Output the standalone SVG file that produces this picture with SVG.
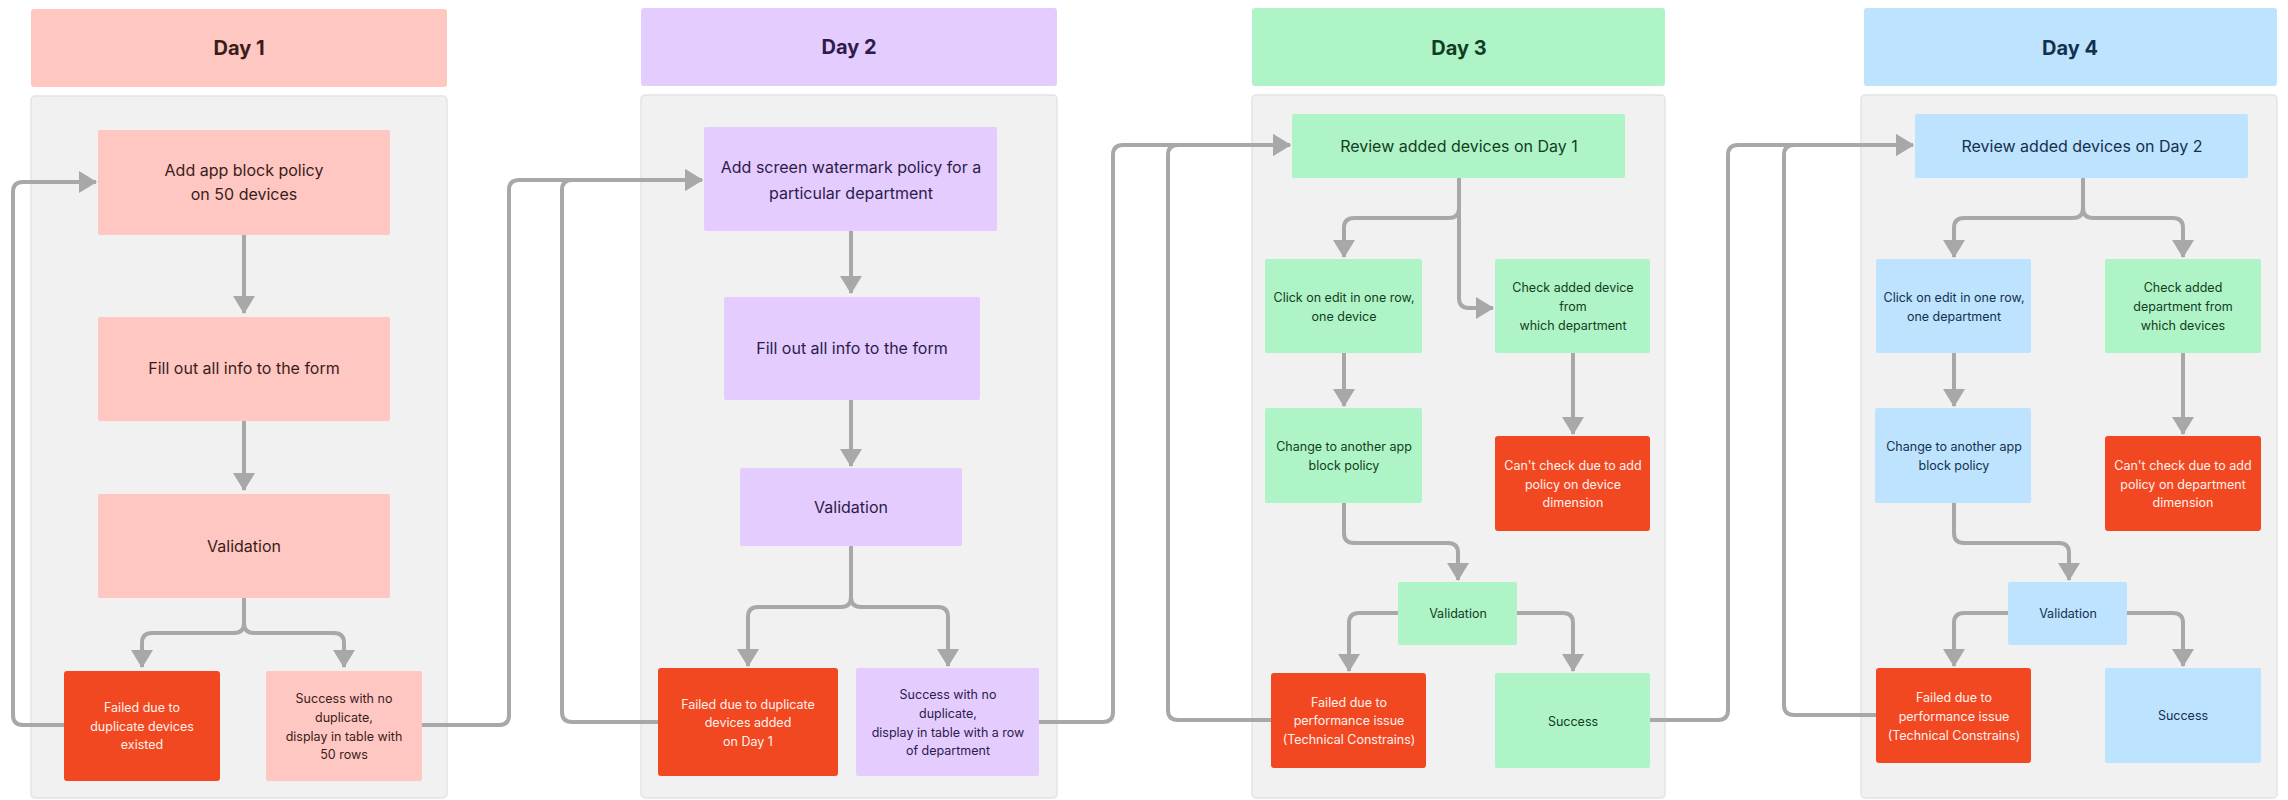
<svg xmlns="http://www.w3.org/2000/svg" width="2288" height="800" viewBox="0 0 2288 800">
<style>
.bg{fill:#ffffff}
.panel{fill:#F1F1F1;stroke:#E3E3E3;stroke-width:1.5}
.pink{fill:#FFC7C2}
.lav{fill:#E4CCFF}
.mint{fill:#AFF4C6}
.blue{fill:#BDE3FF}
.red{fill:#F24822}
text{font-family:Inter,"Liberation Sans",Arial,sans-serif;text-anchor:middle}
.h{font-size:20px;font-weight:700}
.m{font-size:16px}
.s{font-size:12.5px}
.d1{fill:#3A1D1A}
.d2{fill:#2D1B4A}
.d3{fill:#123D24}
.d4{fill:#14304D}
.w{fill:#FFF1EC}
.c{fill:none;stroke:#A8A8A8;stroke-width:4;stroke-linejoin:round;marker-end:url(#ah)}
</style>
<defs>
<marker id="ah" markerUnits="userSpaceOnUse" markerWidth="18" markerHeight="22" refX="17" refY="11" orient="auto" viewBox="0 0 18 22">
<path d="M0,0 L18,11 L0,22 Z" fill="#A8A8A8"/>
</marker>
</defs>
<rect class="bg" x="0" y="0" width="2288" height="800"/>

<g id="lanes">
<g id="day1-lane">
<rect class="pink" x="31" y="9" width="416" height="78" rx="3"/>
<text class="h d1" x="239" y="55">Day 1</text>
<rect class="panel" x="31" y="96" width="416" height="702" rx="4"/>
</g>
<g id="day2-lane">
<rect class="lav" x="641" y="8" width="416" height="78" rx="3"/>
<text class="h d2" x="849" y="54">Day 2</text>
<rect class="panel" x="641" y="95" width="416" height="703" rx="4"/>
</g>
<g id="day3-lane">
<rect class="mint" x="1252" y="8" width="413" height="78" rx="3"/>
<text class="h d3" x="1459" y="55">Day 3</text>
<rect class="panel" x="1252" y="95" width="413" height="703" rx="4"/>
</g>
<g id="day4-lane">
<rect class="blue" x="1864" y="8" width="413" height="78" rx="3"/>
<text class="h d4" x="2070" y="55">Day 4</text>
<rect class="panel" x="1861" y="95" width="416" height="703" rx="4"/>
</g>
</g>

<g id="connectors">
<path class="c" d="M244,235 V313"/>
<path class="c" d="M244,421 V490"/>
<path class="c" d="M244,598 V623 Q244,633 234,633 H152 Q142,633 142,643 V667"/>
<path class="c" d="M244,598 V623 Q244,633 254,633 H334 Q344,633 344,643 V667"/>
<path class="c" d="M64,725 H23 Q13,725 13,715 V192 Q13,182 23,182 H96"/>
<path class="c" d="M422,725 H499 Q509,725 509,715 V190 Q509,180 519,180 H702"/>
<path class="c" d="M658,722 H572 Q562,722 562,712 V190 Q562,180 572,180 H702"/>

<path class="c" d="M851,231 V293"/>
<path class="c" d="M851,400 V466"/>
<path class="c" d="M851,546 V597 Q851,607 841,607 H758 Q748,607 748,617 V666"/>
<path class="c" d="M851,546 V597 Q851,607 861,607 H938 Q948,607 948,617 V666"/>
<path class="c" d="M1039,722 H1103 Q1113,722 1113,712 V155 Q1113,145 1123,145 H1290"/>
<path class="c" d="M1271,720 H1178 Q1168,720 1168,710 V155 Q1168,145 1178,145 H1290"/>

<path class="c" d="M1459,178 V208 Q1459,218 1449,218 H1354 Q1344,218 1344,228 V257"/>
<path class="c" d="M1459,178 V298 Q1459,308 1469,308 H1493"/>
<path class="c" d="M1344,353 V406"/>
<path class="c" d="M1573,353 V434"/>
<path class="c" d="M1344,503 V533 Q1344,543 1354,543 H1448 Q1458,543 1458,553 V580"/>
<path class="c" d="M1398,613 H1359 Q1349,613 1349,623 V671"/>
<path class="c" d="M1517,613 H1563 Q1573,613 1573,623 V671"/>
<path class="c" d="M1650,720 H1718 Q1728,720 1728,710 V155 Q1728,145 1738,145 H1913"/>
<path class="c" d="M1876,715 H1794 Q1784,715 1784,705 V155 Q1784,145 1794,145 H1913"/>

<path class="c" d="M2083,178 V208 Q2083,218 2073,218 H1964 Q1954,218 1954,228 V257"/>
<path class="c" d="M2083,178 V208 Q2083,218 2093,218 H2173 Q2183,218 2183,228 V257"/>
<path class="c" d="M1954,353 V406"/>
<path class="c" d="M2183,353 V434"/>
<path class="c" d="M1954,503 V533 Q1954,543 1964,543 H2059 Q2069,543 2069,553 V580"/>
<path class="c" d="M2008,613 H1964 Q1954,613 1954,623 V666"/>
<path class="c" d="M2127,613 H2173 Q2183,613 2183,623 V666"/>
</g>

<g id="d1-add">
<rect class="pink" x="98" y="130" width="292" height="105" rx="2"/>
<text class="m d1" x="244" y="175.5">Add app block policy</text>
<text class="m d1" x="244" y="199.5">on 50 devices</text>
</g>
<g id="d1-fill">
<rect class="pink" x="98" y="317" width="292" height="104" rx="2"/>
<text class="m d1" x="244" y="373.5">Fill out all info to the form</text>
</g>
<g id="d1-validation">
<rect class="pink" x="98" y="494" width="292" height="104" rx="2"/>
<text class="m d1" x="244" y="551.5">Validation</text>
</g>
<g id="d1-failed">
<rect class="red" x="64" y="671" width="156" height="110" rx="3"/>
<text class="s w" x="142" y="711.5">Failed due to</text>
<text class="s w" x="142" y="730.5">duplicate devices</text>
<text class="s w" x="142" y="748.5">existed</text>
</g>
<g id="d1-success">
<rect class="pink" x="266" y="671" width="156" height="110" rx="2"/>
<text class="s d1" x="344" y="702.5">Success with no</text>
<text class="s d1" x="344" y="721.5">duplicate,</text>
<text class="s d1" x="344" y="740.5">display in table with</text>
<text class="s d1" x="344" y="758.5">50 rows</text>
</g>

<g id="d2-add">
<rect class="lav" x="704" y="127" width="293" height="104" rx="2"/>
<text class="m d2" x="851" y="172.5">Add screen watermark policy for a</text>
<text class="m d2" x="851" y="198.5">particular department</text>
</g>
<g id="d2-fill">
<rect class="lav" x="724" y="297" width="256" height="103" rx="2"/>
<text class="m d2" x="852" y="353.5">Fill out all info to the form</text>
</g>
<g id="d2-validation">
<rect class="lav" x="740" y="468" width="222" height="78" rx="2"/>
<text class="m d2" x="851" y="512.5">Validation</text>
</g>
<g id="d2-failed">
<rect class="red" x="658" y="668" width="180" height="108" rx="3"/>
<text class="s w" x="748" y="708.5">Failed due to duplicate</text>
<text class="s w" x="748" y="726.5">devices added</text>
<text class="s w" x="748" y="745.5">on Day 1</text>
</g>
<g id="d2-success">
<rect class="lav" x="856" y="668" width="183" height="108" rx="2"/>
<text class="s d2" x="948" y="698.5">Success with no</text>
<text class="s d2" x="948" y="717.5">duplicate,</text>
<text class="s d2" x="948" y="736.5">display in table with a row</text>
<text class="s d2" x="948" y="754.5">of department</text>
</g>

<g id="d3-review">
<rect class="mint" x="1292" y="114" width="333" height="64" rx="2"/>
<text class="m d3" x="1459" y="151.5">Review added devices on Day 1</text>
</g>
<g id="d3-click">
<rect class="mint" x="1265" y="259" width="157" height="94" rx="2"/>
<text class="s d3" x="1344" y="301.5">Click on edit in one row,</text>
<text class="s d3" x="1344" y="320.5">one device</text>
</g>
<g id="d3-check">
<rect class="mint" x="1495" y="259" width="155" height="94" rx="2"/>
<text class="s d3" x="1573" y="291.5">Check added device</text>
<text class="s d3" x="1573" y="310.5">from</text>
<text class="s d3" x="1573" y="329.5">which department</text>
</g>
<g id="d3-change">
<rect class="mint" x="1265" y="408" width="157" height="95" rx="2"/>
<text class="s d3" x="1344" y="450.5">Change to another app</text>
<text class="s d3" x="1344" y="469.5">block policy</text>
</g>
<g id="d3-cant">
<rect class="red" x="1495" y="436" width="155" height="95" rx="3"/>
<text class="s w" x="1573" y="469.5">Can't check due to add</text>
<text class="s w" x="1573" y="488.5">policy on device</text>
<text class="s w" x="1573" y="506.5">dimension</text>
</g>
<g id="d3-validation">
<rect class="mint" x="1398" y="582" width="119" height="63" rx="2"/>
<text class="s d3" x="1458" y="617.5">Validation</text>
</g>
<g id="d3-failed">
<rect class="red" x="1271" y="673" width="155" height="95" rx="3"/>
<text class="s w" x="1349" y="706.5">Failed due to</text>
<text class="s w" x="1349" y="724.5">performance issue</text>
<text class="s w" x="1349" y="743.5">(Technical Constrains)</text>
</g>
<g id="d3-success">
<rect class="mint" x="1495" y="673" width="155" height="95" rx="2"/>
<text class="s d3" x="1573" y="725.5">Success</text>
</g>

<g id="d4-review">
<rect class="blue" x="1915" y="114" width="333" height="64" rx="2"/>
<text class="m d4" x="2082" y="151.5">Review added devices on Day 2</text>
</g>
<g id="d4-click">
<rect class="blue" x="1876" y="259" width="155" height="94" rx="2"/>
<text class="s d4" x="1954" y="301.5">Click on edit in one row,</text>
<text class="s d4" x="1954" y="320.5">one department</text>
</g>
<g id="d4-check">
<rect class="mint" x="2105" y="259" width="156" height="94" rx="2"/>
<text class="s d3" x="2183" y="291.5">Check added</text>
<text class="s d3" x="2183" y="310.5">department from</text>
<text class="s d3" x="2183" y="329.5">which devices</text>
</g>
<g id="d4-change">
<rect class="blue" x="1875" y="408" width="156" height="95" rx="2"/>
<text class="s d4" x="1954" y="450.5">Change to another app</text>
<text class="s d4" x="1954" y="469.5">block policy</text>
</g>
<g id="d4-cant">
<rect class="red" x="2105" y="436" width="156" height="95" rx="3"/>
<text class="s w" x="2183" y="469.5">Can't check due to add</text>
<text class="s w" x="2183" y="488.5">policy on department</text>
<text class="s w" x="2183" y="506.5">dimension</text>
</g>
<g id="d4-validation">
<rect class="blue" x="2008" y="582" width="119" height="63" rx="2"/>
<text class="s d4" x="2068" y="617.5">Validation</text>
</g>
<g id="d4-failed">
<rect class="red" x="1876" y="668" width="155" height="95" rx="3"/>
<text class="s w" x="1954" y="701.5">Failed due to</text>
<text class="s w" x="1954" y="720.5">performance issue</text>
<text class="s w" x="1954" y="739.5">(Technical Constrains)</text>
</g>
<g id="d4-success">
<rect class="blue" x="2105" y="668" width="156" height="95" rx="2"/>
<text class="s d4" x="2183" y="719.5">Success</text>
</g>
</svg>
